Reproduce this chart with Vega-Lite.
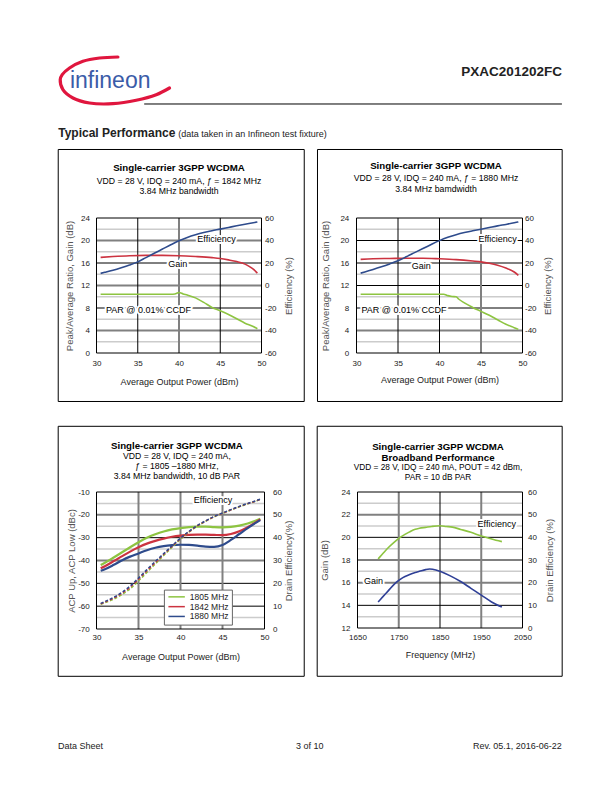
{
 "$schema": "https://vega.github.io/schema/vega-lite/v6.json",
 "background": "white",
 "padding": {"left": 53.5, "top": 50, "right": 0, "bottom": 0},
 "config": {
  "font": "Liberation Sans",
  "view": {"stroke": null},
  "axis": {"labelFont": "Liberation Sans", "labelFontSize": 8, "labelColor": "#222222", "titleFont": "Liberation Sans", "titleFontSize": 9, "titleFontWeight": "normal", "titleColor": "#222222", "domain": false, "ticks": false, "tickSize": 0, "grid": false, "labelOverlap": false, "labelFlush": false, "labelBound": false},
  "axisY": {"titleColor": "#555555", "titleFontSize": 9.5, "labelOverlap": false},
  "title": {"font": "Liberation Sans", "fontSize": 9.7, "fontWeight": "bold", "color": "#000000", "subtitleFont": "Liberation Sans", "subtitleFontSize": 8.7, "subtitleColor": "#000000", "anchor": "middle", "frame": "group"},
  "text": {"font": "Liberation Sans"},
  "legend": {"labelFont": "Liberation Sans"}
 },
 "datasets": {
  "swoosh": [
   {"i":1,"hx":0.0460,"hy":0.0421},{"i":2,"hx":0.0065,"hy":0.0526},{"i":3,"hx":-0.0292,"hy":0.0874},{"i":4,"hx":-0.0579,"hy":0.1579},{"i":5,"hx":-0.0736,"hy":0.2284},{"i":6,"hx":-0.0779,"hy":0.2811},{"i":7,"hx":-0.0721,"hy":0.3863},{"i":8,"hx":-0.0506,"hy":0.4737},{"i":9,"hx":-0.0150,"hy":0.5263},{"i":10,"hx":0.0353,"hy":0.5337},{"i":11,"hx":0.0853,"hy":0.4979},{"i":12,"hx":0.1282,"hy":0.4389},{"i":13,"hx":0.1568,"hy":0.3684}
  ],
  "c1": [
   {"s":"Efficiency","P":30.5,"v":10.8},{"s":"Efficiency","P":31,"v":11.7},{"s":"Efficiency","P":32,"v":13.6},{"s":"Efficiency","P":33,"v":15.8},{"s":"Efficiency","P":34,"v":18.2},{"s":"Efficiency","P":35,"v":21.0},{"s":"Efficiency","P":36,"v":24.8},{"s":"Efficiency","P":37,"v":28.6},{"s":"Efficiency","P":38,"v":32.4},{"s":"Efficiency","P":39,"v":36.2},{"s":"Efficiency","P":40,"v":39.8},{"s":"Efficiency","P":41,"v":42.7},{"s":"Efficiency","P":42,"v":45.1},{"s":"Efficiency","P":43,"v":47.1},{"s":"Efficiency","P":44,"v":48.7},{"s":"Efficiency","P":45,"v":50.1},{"s":"Efficiency","P":46,"v":51.6},{"s":"Efficiency","P":47,"v":53.1},{"s":"Efficiency","P":48,"v":54.5},{"s":"Efficiency","P":49,"v":55.8},{"s":"Efficiency","P":49.5,"v":56.5},
   {"s":"Gain","P":30.5,"v":17.0},{"s":"Gain","P":32,"v":17.15},{"s":"Gain","P":34,"v":17.3},{"s":"Gain","P":36,"v":17.35},{"s":"Gain","P":38,"v":17.35},{"s":"Gain","P":40,"v":17.3},{"s":"Gain","P":42,"v":17.15},{"s":"Gain","P":44,"v":16.95},{"s":"Gain","P":45,"v":16.8},{"s":"Gain","P":46,"v":16.55},{"s":"Gain","P":47,"v":16.25},{"s":"Gain","P":48,"v":15.8},{"s":"Gain","P":48.5,"v":15.4},{"s":"Gain","P":49,"v":14.9},{"s":"Gain","P":49.5,"v":14.2},
   {"s":"PAR","P":30.5,"v":10.45},{"s":"PAR","P":33,"v":10.45},{"s":"PAR","P":36,"v":10.45},{"s":"PAR","P":39,"v":10.45},{"s":"PAR","P":39.5,"v":10.5},{"s":"PAR","P":40,"v":10.75},{"s":"PAR","P":40.5,"v":10.5},{"s":"PAR","P":41,"v":10.3},{"s":"PAR","P":42,"v":9.8},{"s":"PAR","P":43,"v":9.0},{"s":"PAR","P":44,"v":8.1},{"s":"PAR","P":45,"v":7.5},{"s":"PAR","P":46,"v":6.85},{"s":"PAR","P":47,"v":6.1},{"s":"PAR","P":48,"v":5.3},{"s":"PAR","P":49,"v":4.7},{"s":"PAR","P":49.5,"v":4.3}
  ],
  "c1lab": [
   {"t":"Efficiency","P":44.55,"v":20.3},{"t":"Gain","P":39.86,"v":15.85},{"t":"PAR  @ 0.01% CCDF","P":36.3,"v":7.6}
  ],
  "c2": [
   {"s":"Efficiency","P":30.5,"v":11.0},{"s":"Efficiency","P":31,"v":12.0},{"s":"Efficiency","P":32,"v":14.2},{"s":"Efficiency","P":33,"v":16.6},{"s":"Efficiency","P":34,"v":19.2},{"s":"Efficiency","P":35,"v":22.0},{"s":"Efficiency","P":36,"v":25.5},{"s":"Efficiency","P":37,"v":29.2},{"s":"Efficiency","P":38,"v":32.9},{"s":"Efficiency","P":39,"v":36.5},{"s":"Efficiency","P":40,"v":39.9},{"s":"Efficiency","P":41,"v":42.8},{"s":"Efficiency","P":42,"v":45.2},{"s":"Efficiency","P":43,"v":47.1},{"s":"Efficiency","P":44,"v":48.6},{"s":"Efficiency","P":45,"v":50.0},{"s":"Efficiency","P":46,"v":51.5},{"s":"Efficiency","P":47,"v":53.0},{"s":"Efficiency","P":48,"v":54.3},{"s":"Efficiency","P":49,"v":55.7},{"s":"Efficiency","P":49.5,"v":56.5},
   {"s":"Gain","P":30.5,"v":16.65},{"s":"Gain","P":32,"v":16.75},{"s":"Gain","P":34,"v":16.8},{"s":"Gain","P":36,"v":16.85},{"s":"Gain","P":38,"v":16.85},{"s":"Gain","P":40,"v":16.75},{"s":"Gain","P":42,"v":16.6},{"s":"Gain","P":44,"v":16.35},{"s":"Gain","P":45,"v":16.2},{"s":"Gain","P":46,"v":15.95},{"s":"Gain","P":47,"v":15.6},{"s":"Gain","P":48,"v":15.1},{"s":"Gain","P":49,"v":14.4},{"s":"Gain","P":49.5,"v":13.8},
   {"s":"PAR","P":30.5,"v":10.45},{"s":"PAR","P":35,"v":10.45},{"s":"PAR","P":40,"v":10.45},{"s":"PAR","P":40.5,"v":10.45},{"s":"PAR","P":41,"v":10.2},{"s":"PAR","P":41.5,"v":10.05},{"s":"PAR","P":42,"v":10.0},{"s":"PAR","P":42.3,"v":9.6},{"s":"PAR","P":43,"v":8.9},{"s":"PAR","P":44,"v":8.1},{"s":"PAR","P":45,"v":7.4},{"s":"PAR","P":46,"v":6.7},{"s":"PAR","P":47,"v":5.9},{"s":"PAR","P":48,"v":5.1},{"s":"PAR","P":49,"v":4.5},{"s":"PAR","P":49.5,"v":4.2}
  ],
  "c2lab": [
   {"t":"Efficiency","P":47.0,"v":20.3},{"t":"Gain","P":37.8,"v":15.4},{"t":"PAR  @ 0.01% CCDF","P":35.72,"v":7.65}
  ],
  "c3acp": [
   {"f":"1805 MHz","P":30.5,"v":-42.0},{"f":"1805 MHz","P":31,"v":-41.0},{"f":"1805 MHz","P":32,"v":-38.8},{"f":"1805 MHz","P":33,"v":-36.5},{"f":"1805 MHz","P":34,"v":-34.2},{"f":"1805 MHz","P":35,"v":-32.0},{"f":"1805 MHz","P":36,"v":-30.0},{"f":"1805 MHz","P":37,"v":-28.5},{"f":"1805 MHz","P":38,"v":-27.3},{"f":"1805 MHz","P":39,"v":-26.4},{"f":"1805 MHz","P":40,"v":-25.8},{"f":"1805 MHz","P":41,"v":-25.4},{"f":"1805 MHz","P":42,"v":-25.2},{"f":"1805 MHz","P":43,"v":-25.2},{"f":"1805 MHz","P":44,"v":-25.4},{"f":"1805 MHz","P":45,"v":-25.5},{"f":"1805 MHz","P":46,"v":-25.3},{"f":"1805 MHz","P":47,"v":-24.7},{"f":"1805 MHz","P":48,"v":-23.8},{"f":"1805 MHz","P":49,"v":-22.5},{"f":"1805 MHz","P":49.5,"v":-21.7},
   {"f":"1842 MHz","P":30.5,"v":-43.4},{"f":"1842 MHz","P":31,"v":-42.5},{"f":"1842 MHz","P":32,"v":-40.4},{"f":"1842 MHz","P":33,"v":-38.2},{"f":"1842 MHz","P":34,"v":-36.1},{"f":"1842 MHz","P":35,"v":-34.2},{"f":"1842 MHz","P":36,"v":-32.6},{"f":"1842 MHz","P":37,"v":-31.4},{"f":"1842 MHz","P":38,"v":-30.4},{"f":"1842 MHz","P":39,"v":-29.6},{"f":"1842 MHz","P":40,"v":-29.1},{"f":"1842 MHz","P":41,"v":-28.8},{"f":"1842 MHz","P":42,"v":-28.7},{"f":"1842 MHz","P":43,"v":-28.7},{"f":"1842 MHz","P":44,"v":-28.8},{"f":"1842 MHz","P":45,"v":-28.9},{"f":"1842 MHz","P":46,"v":-28.4},{"f":"1842 MHz","P":47,"v":-27.2},{"f":"1842 MHz","P":48,"v":-25.4},{"f":"1842 MHz","P":49,"v":-23.2},{"f":"1842 MHz","P":49.5,"v":-22.0},
   {"f":"1880 MHz","P":30.5,"v":-44.5},{"f":"1880 MHz","P":31,"v":-43.8},{"f":"1880 MHz","P":32,"v":-42.0},{"f":"1880 MHz","P":33,"v":-40.0},{"f":"1880 MHz","P":34,"v":-38.3},{"f":"1880 MHz","P":35,"v":-36.9},{"f":"1880 MHz","P":36,"v":-35.5},{"f":"1880 MHz","P":37,"v":-34.4},{"f":"1880 MHz","P":38,"v":-33.7},{"f":"1880 MHz","P":39,"v":-33.3},{"f":"1880 MHz","P":40,"v":-33.1},{"f":"1880 MHz","P":41,"v":-33.2},{"f":"1880 MHz","P":42,"v":-33.5},{"f":"1880 MHz","P":43,"v":-33.9},{"f":"1880 MHz","P":44,"v":-34.0},{"f":"1880 MHz","P":45,"v":-33.2},{"f":"1880 MHz","P":46,"v":-31.0},{"f":"1880 MHz","P":47,"v":-28.4},{"f":"1880 MHz","P":48,"v":-25.8},{"f":"1880 MHz","P":49,"v":-23.4},{"f":"1880 MHz","P":49.5,"v":-22.3}
  ],
  "c3eff": [
   {"f":"1805 MHz","P":30.5,"v":10.8},{"f":"1805 MHz","P":31,"v":11.5},{"f":"1805 MHz","P":32,"v":13.0},{"f":"1805 MHz","P":33,"v":15.0},{"f":"1805 MHz","P":34,"v":17.6},{"f":"1805 MHz","P":35,"v":21.0},{"f":"1805 MHz","P":36,"v":24.8},{"f":"1805 MHz","P":37,"v":28.5},{"f":"1805 MHz","P":38,"v":32.2},{"f":"1805 MHz","P":39,"v":35.8},{"f":"1805 MHz","P":40,"v":39.3},{"f":"1805 MHz","P":41,"v":42.4},{"f":"1805 MHz","P":42,"v":45.0},{"f":"1805 MHz","P":43,"v":47.2},{"f":"1805 MHz","P":44,"v":49.1},{"f":"1805 MHz","P":45,"v":50.6},{"f":"1805 MHz","P":46,"v":52.1},{"f":"1805 MHz","P":47,"v":53.5},{"f":"1805 MHz","P":48,"v":54.8},{"f":"1805 MHz","P":49,"v":56.0},{"f":"1805 MHz","P":49.5,"v":56.7},
   {"f":"1842 MHz","P":30.5,"v":11.0},{"f":"1842 MHz","P":31,"v":11.8},{"f":"1842 MHz","P":32,"v":13.5},{"f":"1842 MHz","P":33,"v":15.6},{"f":"1842 MHz","P":34,"v":18.3},{"f":"1842 MHz","P":35,"v":21.8},{"f":"1842 MHz","P":36,"v":25.5},{"f":"1842 MHz","P":37,"v":29.1},{"f":"1842 MHz","P":38,"v":32.7},{"f":"1842 MHz","P":39,"v":36.2},{"f":"1842 MHz","P":40,"v":39.6},{"f":"1842 MHz","P":41,"v":42.6},{"f":"1842 MHz","P":42,"v":45.2},{"f":"1842 MHz","P":43,"v":47.3},{"f":"1842 MHz","P":44,"v":49.2},{"f":"1842 MHz","P":45,"v":50.7},{"f":"1842 MHz","P":46,"v":52.2},{"f":"1842 MHz","P":47,"v":53.6},{"f":"1842 MHz","P":48,"v":54.9},{"f":"1842 MHz","P":49,"v":56.1},{"f":"1842 MHz","P":49.5,"v":56.8},
   {"f":"1880 MHz","P":30.5,"v":11.2},{"f":"1880 MHz","P":31,"v":12.0},{"f":"1880 MHz","P":32,"v":13.8},{"f":"1880 MHz","P":33,"v":16.0},{"f":"1880 MHz","P":34,"v":18.8},{"f":"1880 MHz","P":35,"v":22.3},{"f":"1880 MHz","P":36,"v":26.0},{"f":"1880 MHz","P":37,"v":29.6},{"f":"1880 MHz","P":38,"v":33.0},{"f":"1880 MHz","P":39,"v":36.5},{"f":"1880 MHz","P":40,"v":39.8},{"f":"1880 MHz","P":41,"v":42.8},{"f":"1880 MHz","P":42,"v":45.3},{"f":"1880 MHz","P":43,"v":47.4},{"f":"1880 MHz","P":44,"v":49.3},{"f":"1880 MHz","P":45,"v":50.8},{"f":"1880 MHz","P":46,"v":52.3},{"f":"1880 MHz","P":47,"v":53.7},{"f":"1880 MHz","P":48,"v":55.0},{"f":"1880 MHz","P":49,"v":56.2},{"f":"1880 MHz","P":49.5,"v":56.9}
  ],
  "c3lab": [{"t":"Efficiency","P":43.87,"v":-13.5}],
  "c4": [
   {"s":"Efficiency","F":1700,"v":30.5},{"s":"Efficiency","F":1710,"v":32.5},{"s":"Efficiency","F":1725,"v":35.5},{"s":"Efficiency","F":1740,"v":38.0},{"s":"Efficiency","F":1750,"v":39.5},{"s":"Efficiency","F":1765,"v":41.3},{"s":"Efficiency","F":1775,"v":42.3},{"s":"Efficiency","F":1790,"v":43.6},{"s":"Efficiency","F":1800,"v":44.0},{"s":"Efficiency","F":1815,"v":44.4},{"s":"Efficiency","F":1830,"v":44.8},{"s":"Efficiency","F":1850,"v":45.1},{"s":"Efficiency","F":1865,"v":44.8},{"s":"Efficiency","F":1880,"v":44.5},{"s":"Efficiency","F":1900,"v":43.5},{"s":"Efficiency","F":1925,"v":42.2},{"s":"Efficiency","F":1950,"v":40.6},{"s":"Efficiency","F":1975,"v":39.3},{"s":"Efficiency","F":2000,"v":38.1},
   {"s":"Gain","F":1700,"v":14.3},{"s":"Gain","F":1710,"v":14.7},{"s":"Gain","F":1725,"v":15.3},{"s":"Gain","F":1740,"v":15.9},{"s":"Gain","F":1750,"v":16.2},{"s":"Gain","F":1760,"v":16.45},{"s":"Gain","F":1775,"v":16.7},{"s":"Gain","F":1790,"v":16.9},{"s":"Gain","F":1800,"v":17.0},{"s":"Gain","F":1815,"v":17.15},{"s":"Gain","F":1825,"v":17.2},{"s":"Gain","F":1840,"v":17.12},{"s":"Gain","F":1850,"v":17.0},{"s":"Gain","F":1875,"v":16.6},{"s":"Gain","F":1900,"v":16.1},{"s":"Gain","F":1925,"v":15.5},{"s":"Gain","F":1950,"v":14.9},{"s":"Gain","F":1975,"v":14.3},{"s":"Gain","F":2000,"v":13.85}
  ],
  "c4lab": [{"t":"Efficiency","F":1987.5,"v":21.2},{"t":"Gain","F":1688.5,"v":16.17}]
 },
 "columns": 1,
 "align": "none",
 "spacing": 0,
 "resolve": {"scale": {"color": "independent"}, "legend": {"color": "independent"}},
 "concat": [
  {
   "width": 465.7, "height": 95,
   "encoding": {
    "x": {"field": "hx", "type": "quantitative", "scale": {"domain": [0, 1]}, "axis": null},
    "y": {"field": "hy", "type": "quantitative", "scale": {"domain": [0, 1], "reverse": true}, "axis": null}
   },
   "layer": [
    {"data": {"name": "swoosh"}, "mark": {"type": "line", "color": "#e0163e", "strokeWidth": 3.2, "interpolate": "catmull-rom", "strokeCap": "round"}, "encoding": {"order": {"field": "i", "type": "quantitative"}}},
    {"data": {"values": [{"hx": 0.1024, "hx2": 0.9994, "hy": 0.5368}]}, "mark": {"type": "rule", "color": "#000000", "strokeWidth": 1}, "encoding": {"x2": {"field": "hx2"}}},
    {"data": {"values": [{"hx": -0.0571, "hy": 0.3716, "t": "infineon"}]}, "mark": {"type": "text", "align": "left", "baseline": "alphabetic", "fontSize": 23, "color": "#3b5ca8"}, "encoding": {"text": {"field": "t"}}},
    {"data": {"values": [{"hx": 0.9994, "hy": 0.2453, "t": "PXAC201202FC"}]}, "mark": {"type": "text", "align": "right", "baseline": "alphabetic", "fontSize": 13.5, "fontWeight": "bold", "color": "#222222"}, "encoding": {"text": {"field": "t"}}},
    {"data": {"values": [{"hx": -0.0822, "hy": 0.8874, "t": "Typical Performance"}]}, "mark": {"type": "text", "align": "left", "baseline": "alphabetic", "fontSize": 12, "fontWeight": "bold", "color": "#222222"}, "encoding": {"text": {"field": "t"}}},
    {"data": {"values": [{"hx": 0.1755, "hy": 0.8874, "t": "(data taken in an Infineon test fixture)"}]}, "mark": {"type": "text", "align": "left", "baseline": "alphabetic", "fontSize": 9, "color": "#222222"}, "encoding": {"text": {"field": "t"}}}
   ]
  },
  {
   "columns": 1,
   "align": "none",
   "spacing": 23,
   "resolve": {"scale": {"color": "independent"}, "legend": {"color": "independent"}},
   "concat": [
    {
     "columns": 2,
     "align": "none",
     "spacing": 11,
     "resolve": {"scale": {"color": "independent"}, "legend": {"color": "independent"}},
     "concat": [
      {
       "width": 165, "height": 135,
       "title": {"text": "Single-carrier 3GPP WCDMA", "subtitle": ["VDD = 28 V, IDQ = 240 mA, ƒ = 1842 MHz", "3.84 MHz bandwidth"], "offset": -47, "subtitlePadding": 3.4, "subtitleLineHeight": 10.7},
       "layer": [
        {
         "layer": [
          {"data": {"values": [{"v":2},{"v":6},{"v":10},{"v":14},{"v":18},{"v":22}]}, "mark": {"type": "rule", "color": "#cccccc", "strokeWidth": 1.5}, "encoding": {"y": {"field": "v", "type": "quantitative", "title": "Peak/Average Ratio, Gain (dB)", "scale": {"domain": [0, 24]}}}},
          {"data": {"values": [{"v":8},{"v":16}]}, "mark": {"type": "rule", "color": "#000000", "strokeWidth": 1}, "encoding": {"y": {"field": "v", "type": "quantitative", "title": "Peak/Average Ratio, Gain (dB)", "scale": {"domain": [0, 24]}}}},
          {"data": {"values": [{"v":4},{"v":12},{"v":20}]}, "mark": {"type": "rule", "color": "#808080", "strokeWidth": 2}, "encoding": {"y": {"field": "v", "type": "quantitative", "title": "Peak/Average Ratio, Gain (dB)", "scale": {"domain": [0, 24]}}}},
          {"data": {"values": [{"P":35},{"P":45}]}, "mark": {"type": "rule", "color": "#000000", "strokeWidth": 1}, "encoding": {"x": {"field": "P", "type": "quantitative", "title": "Average Output Power (dBm)", "scale": {"domain": [30, 50]}}}},
          {"data": {"values": [{"P":40}]}, "mark": {"type": "rule", "color": "#808080", "strokeWidth": 2}, "encoding": {"x": {"field": "P", "type": "quantitative", "title": "Average Output Power (dBm)", "scale": {"domain": [30, 50]}}}},
          {"data": {"values": [{"P": 30, "P2": 50, "v": 0, "v2": 24}, {"P": 25.36, "P2": 55.18, "v": -8.62, "v2": 36.18}]}, "mark": {"type": "rect", "fill": "#ffffff", "fillOpacity": 0, "stroke": "#000000", "strokeWidth": 1},
           "encoding": {"x": {"field": "P", "type": "quantitative", "title": "Average Output Power (dBm)", "scale": {"domain": [30, 50]}, "axis": {"values": [30, 35, 40, 45, 50], "tickCount": 20, "labelExpr": "'' + datum.value", "labelPadding": 6, "titlePadding": 10}}, "x2": {"field": "P2"}, "y": {"field": "v", "type": "quantitative", "title": "Peak/Average Ratio, Gain (dB)", "scale": {"domain": [0, 24]}, "axis": {"values": [0, 4, 8, 12, 16, 20, 24], "tickCount": 20, "labelExpr": "'' + datum.value", "labelOverlap": false, "labelPadding": 7, "titlePadding": 6}}, "y2": {"field": "v2"}}},
          {"data": {"name": "c1"}, "transform": [{"filter": "datum.s != 'Efficiency'"}], "mark": {"type": "line", "strokeWidth": 1.6, "interpolate": "monotone"}, "encoding": {"x": {"field": "P", "type": "quantitative", "title": "Average Output Power (dBm)", "scale": {"domain": [30, 50]}}, "y": {"field": "v", "type": "quantitative", "title": "Peak/Average Ratio, Gain (dB)", "scale": {"domain": [0, 24]}}, "color": {"field": "s", "type": "nominal", "scale": {"domain": ["Efficiency", "Gain", "PAR"], "range": ["#2e4b8c", "#cc3340", "#8dc441"]}, "legend": null}}},
          {"data": {"name": "c1lab"}, "mark": {"type": "text", "fontSize": 9, "fill": "#ffffff", "stroke": "#ffffff", "strokeWidth": 4, "strokeJoin": "round"}, "encoding": {"x": {"field": "P", "type": "quantitative", "title": "Average Output Power (dBm)", "scale": {"domain": [30, 50]}}, "y": {"field": "v", "type": "quantitative", "title": "Peak/Average Ratio, Gain (dB)", "scale": {"domain": [0, 24]}}, "text": {"field": "t"}}},
          {"data": {"name": "c1lab"}, "mark": {"type": "text", "fontSize": 9, "fill": "#000000"}, "encoding": {"x": {"field": "P", "type": "quantitative", "title": "Average Output Power (dBm)", "scale": {"domain": [30, 50]}}, "y": {"field": "v", "type": "quantitative", "title": "Peak/Average Ratio, Gain (dB)", "scale": {"domain": [0, 24]}}, "text": {"field": "t"}}}
         ]
        },
        {"data": {"name": "c1"}, "transform": [{"filter": "datum.s == 'Efficiency'"}], "mark": {"type": "line", "strokeWidth": 1.6, "interpolate": "monotone"}, "encoding": {"x": {"field": "P", "type": "quantitative", "title": "Average Output Power (dBm)", "scale": {"domain": [30, 50]}}, "y": {"field": "v", "type": "quantitative", "title": "Efficiency (%)", "scale": {"domain": [-60, 60]}, "axis": {"orient": "right", "values": [-60, -40, -20, 0, 20, 40, 60], "tickCount": 20, "labelExpr": "'' + datum.value", "labelOverlap": false, "labelPadding": 3, "titlePadding": 17.5, "titleAngle": 270}}, "color": {"field": "s", "type": "nominal", "scale": {"domain": ["Efficiency", "Gain", "PAR"], "range": ["#2e4b8c", "#cc3340", "#8dc441"]}, "legend": null}}}
       ],
       "resolve": {"scale": {"y": "independent"}}
      },
      {
       "width": 166, "height": 135,
       "title": {"text": "Single-carrier 3GPP WCDMA", "subtitle": ["VDD = 28 V, IDQ = 240 mA, ƒ = 1880 MHz", "3.84 MHz bamdwidth"], "offset": -44.5, "subtitlePadding": 3.1, "subtitleLineHeight": 11.2, "dx": -3.5},
       "layer": [
        {
         "layer": [
          {"data": {"values": [{"v":2},{"v":6},{"v":10},{"v":14},{"v":18},{"v":22}]}, "mark": {"type": "rule", "color": "#cccccc", "strokeWidth": 1.5}, "encoding": {"y": {"field": "v", "type": "quantitative", "title": "Peak/Average Ratio, Gain (dB)", "scale": {"domain": [0, 24]}}}},
          {"data": {"values": [{"v":8},{"v":12},{"v":20}]}, "mark": {"type": "rule", "color": "#000000", "strokeWidth": 1}, "encoding": {"y": {"field": "v", "type": "quantitative", "title": "Peak/Average Ratio, Gain (dB)", "scale": {"domain": [0, 24]}}}},
          {"data": {"values": [{"v":4},{"v":16}]}, "mark": {"type": "rule", "color": "#808080", "strokeWidth": 2}, "encoding": {"y": {"field": "v", "type": "quantitative", "title": "Peak/Average Ratio, Gain (dB)", "scale": {"domain": [0, 24]}}}},
          {"data": {"values": [{"P":35},{"P":40}]}, "mark": {"type": "rule", "color": "#000000", "strokeWidth": 1}, "encoding": {"x": {"field": "P", "type": "quantitative", "title": "Average Output Power (dBm)", "scale": {"domain": [30, 50]}}}},
          {"data": {"values": [{"P":45}]}, "mark": {"type": "rule", "color": "#808080", "strokeWidth": 2}, "encoding": {"x": {"field": "P", "type": "quantitative", "title": "Average Output Power (dBm)", "scale": {"domain": [30, 50]}}}},
          {"data": {"values": [{"P": 30, "P2": 50, "v": 0, "v2": 24}, {"P": 25.30, "P2": 54.78, "v": -8.62, "v2": 36.18}]}, "mark": {"type": "rect", "fill": "#ffffff", "fillOpacity": 0, "stroke": "#000000", "strokeWidth": 1},
           "encoding": {"x": {"field": "P", "type": "quantitative", "title": "Average Output Power (dBm)", "scale": {"domain": [30, 50]}, "axis": {"values": [30, 35, 40, 45, 50], "tickCount": 20, "labelExpr": "'' + datum.value", "labelPadding": 6.4, "titlePadding": 8}}, "x2": {"field": "P2"}, "y": {"field": "v", "type": "quantitative", "title": "Peak/Average Ratio, Gain (dB)", "scale": {"domain": [0, 24]}, "axis": {"values": [0, 4, 8, 12, 16, 20, 24], "tickCount": 20, "labelExpr": "'' + datum.value", "labelOverlap": false, "labelPadding": 7.7, "titlePadding": 9.7}}, "y2": {"field": "v2"}}},
          {"data": {"name": "c2"}, "transform": [{"filter": "datum.s != 'Efficiency'"}], "mark": {"type": "line", "strokeWidth": 1.6, "interpolate": "monotone"}, "encoding": {"x": {"field": "P", "type": "quantitative", "title": "Average Output Power (dBm)", "scale": {"domain": [30, 50]}}, "y": {"field": "v", "type": "quantitative", "title": "Peak/Average Ratio, Gain (dB)", "scale": {"domain": [0, 24]}}, "color": {"field": "s", "type": "nominal", "scale": {"domain": ["Efficiency", "Gain", "PAR"], "range": ["#2e4b8c", "#cc3340", "#8dc441"]}, "legend": null}}},
          {"data": {"name": "c2lab"}, "mark": {"type": "text", "fontSize": 9, "fill": "#ffffff", "stroke": "#ffffff", "strokeWidth": 4, "strokeJoin": "round"}, "encoding": {"x": {"field": "P", "type": "quantitative", "title": "Average Output Power (dBm)", "scale": {"domain": [30, 50]}}, "y": {"field": "v", "type": "quantitative", "title": "Peak/Average Ratio, Gain (dB)", "scale": {"domain": [0, 24]}}, "text": {"field": "t"}}},
          {"data": {"name": "c2lab"}, "mark": {"type": "text", "fontSize": 9, "fill": "#000000"}, "encoding": {"x": {"field": "P", "type": "quantitative", "title": "Average Output Power (dBm)", "scale": {"domain": [30, 50]}}, "y": {"field": "v", "type": "quantitative", "title": "Peak/Average Ratio, Gain (dB)", "scale": {"domain": [0, 24]}}, "text": {"field": "t"}}}
         ]
        },
        {"data": {"name": "c2"}, "transform": [{"filter": "datum.s == 'Efficiency'"}], "mark": {"type": "line", "strokeWidth": 1.6, "interpolate": "monotone"}, "encoding": {"x": {"field": "P", "type": "quantitative", "title": "Average Output Power (dBm)", "scale": {"domain": [30, 50]}}, "y": {"field": "v", "type": "quantitative", "title": "Efficiency (%)", "scale": {"domain": [-60, 60]}, "axis": {"orient": "right", "values": [-60, -40, -20, 0, 20, 40, 60], "tickCount": 20, "labelExpr": "'' + datum.value", "labelOverlap": false, "labelPadding": 2, "titlePadding": 16, "titleAngle": 270}}, "color": {"field": "s", "type": "nominal", "scale": {"domain": ["Efficiency", "Gain", "PAR"], "range": ["#2e4b8c", "#cc3340", "#8dc441"]}, "legend": null}}}
       ],
       "resolve": {"scale": {"y": "independent"}}
      }
     ]
    },
    {
     "columns": 2,
     "align": "none",
     "spacing": 11,
     "resolve": {"scale": {"color": "independent"}, "legend": {"color": "independent"}},
     "concat": [
      {
       "width": 168, "height": 137,
       "title": {"text": "Single-carrier 3GPP WCDMA", "subtitle": ["VDD = 28 V, IDQ = 240 mA,", "ƒ = 1805 –1880 MHz,", "3.84 MHz bandwidth, 10 dB PAR"], "offset": -55, "subtitlePadding": 0.8, "subtitleLineHeight": 10.2, "dx": -3.6},
       "layer": [
        {
         "layer": [
          {"data": {"values": [{"v":-65},{"v":-55},{"v":-45},{"v":-35},{"v":-25},{"v":-15}]}, "mark": {"type": "rule", "color": "#cccccc", "strokeWidth": 1.5}, "encoding": {"y": {"field": "v", "type": "quantitative", "title": "ACP Up, ACP Low (dBc)", "scale": {"domain": [-70, -10]}}}},
          {"data": {"values": [{"v":-60},{"v":-50},{"v":-30}]}, "mark": {"type": "rule", "color": "#000000", "strokeWidth": 1}, "encoding": {"y": {"field": "v", "type": "quantitative", "title": "ACP Up, ACP Low (dBc)", "scale": {"domain": [-70, -10]}}}},
          {"data": {"values": [{"v":-40},{"v":-20}]}, "mark": {"type": "rule", "color": "#808080", "strokeWidth": 2}, "encoding": {"y": {"field": "v", "type": "quantitative", "title": "ACP Up, ACP Low (dBc)", "scale": {"domain": [-70, -10]}}}},
          {"data": {"values": [{"P":35},{"P":40},{"P":45}]}, "mark": {"type": "rule", "color": "#808080", "strokeWidth": 2}, "encoding": {"x": {"field": "P", "type": "quantitative", "title": "Average Output Power (dBm)", "scale": {"domain": [30, 50]}}}},
          {"data": {"values": [{"P": 30, "P2": 50, "v": -70, "v2": -10}, {"P": 25.44, "P2": 54.73, "v": -90.72, "v2": 18.77}]}, "mark": {"type": "rect", "fill": "#ffffff", "fillOpacity": 0, "stroke": "#000000", "strokeWidth": 1},
           "encoding": {"x": {"field": "P", "type": "quantitative", "title": "Average Output Power (dBm)", "scale": {"domain": [30, 50]}, "axis": {"values": [30, 35, 40, 45, 50], "tickCount": 20, "labelExpr": "'' + datum.value", "labelPadding": 4.7, "titlePadding": 10.6}}, "x2": {"field": "P2"}, "y": {"field": "v", "type": "quantitative", "title": "ACP Up, ACP Low (dBc)", "scale": {"domain": [-70, -10]}, "axis": {"values": [-70, -60, -50, -40, -30, -20, -10], "tickCount": 20, "labelExpr": "'' + datum.value", "labelOverlap": false, "labelPadding": 7.3, "titlePadding": 1}}, "y2": {"field": "v2"}}},
          {"data": {"name": "c3acp"}, "mark": {"type": "line", "strokeWidth": 2.2, "interpolate": "monotone"}, "encoding": {"x": {"field": "P", "type": "quantitative", "title": "Average Output Power (dBm)", "scale": {"domain": [30, 50]}}, "y": {"field": "v", "type": "quantitative", "title": "ACP Up, ACP Low (dBc)", "scale": {"domain": [-70, -10]}}, "color": {"field": "f", "type": "nominal", "scale": {"domain": ["1805 MHz", "1842 MHz", "1880 MHz"], "range": ["#8dc441", "#cc3340", "#2e4b8c"]}, "legend": {"orient": "none", "legendX": 67.4, "legendY": 97.6, "title": null, "symbolType": "M-1,0H5", "symbolSize": 30, "symbolStrokeWidth": 1.5, "symbolDash": [], "labelFontSize": 8.5, "labelColor": "#222222", "labelOffset": 14.4, "fillColor": "#ffffff", "strokeColor": "#666666", "padding": 3, "rowPadding": 0.8}}}},
          {"data": {"name": "c3lab"}, "mark": {"type": "text", "fontSize": 9, "fill": "#ffffff", "stroke": "#ffffff", "strokeWidth": 4, "strokeJoin": "round"}, "encoding": {"x": {"field": "P", "type": "quantitative", "title": "Average Output Power (dBm)", "scale": {"domain": [30, 50]}}, "y": {"field": "v", "type": "quantitative", "title": "ACP Up, ACP Low (dBc)", "scale": {"domain": [-70, -10]}}, "text": {"field": "t"}}},
          {"data": {"name": "c3lab"}, "mark": {"type": "text", "fontSize": 9, "fill": "#000000"}, "encoding": {"x": {"field": "P", "type": "quantitative", "title": "Average Output Power (dBm)", "scale": {"domain": [30, 50]}}, "y": {"field": "v", "type": "quantitative", "title": "ACP Up, ACP Low (dBc)", "scale": {"domain": [-70, -10]}}, "text": {"field": "t"}}}
         ]
        },
        {"data": {"name": "c3eff"}, "mark": {"type": "line", "strokeWidth": 1.5, "strokeDash": [3, 2], "interpolate": "monotone"}, "encoding": {"x": {"field": "P", "type": "quantitative", "title": "Average Output Power (dBm)", "scale": {"domain": [30, 50]}}, "y": {"field": "v", "type": "quantitative", "title": "Drain Efficiency(%)", "scale": {"domain": [0, 60]}, "axis": {"orient": "right", "values": [0, 10, 20, 30, 40, 50, 60], "tickCount": 20, "labelExpr": "'' + datum.value", "labelOverlap": false, "labelPadding": 8, "titlePadding": 12, "titleAngle": 270}}, "color": {"field": "f", "type": "nominal", "scale": {"domain": ["1805 MHz", "1842 MHz", "1880 MHz"], "range": ["#8dc441", "#cc3340", "#2e4b8c"]}, "legend": {"orient": "none", "legendX": 67.4, "legendY": 97.6, "title": null, "symbolType": "M-1,0H5", "symbolSize": 30, "symbolStrokeWidth": 1.5, "symbolDash": [], "labelFontSize": 8.5, "labelColor": "#222222", "labelOffset": 14.4, "fillColor": "#ffffff", "strokeColor": "#666666", "padding": 3, "rowPadding": 0.8}}}}
       ],
       "resolve": {"scale": {"y": "independent"}}
      },
      {
       "width": 165, "height": 136,
       "title": {"text": ["Single-carrier 3GPP WCDMA", "Broadband Performance"], "lineHeight": 10.7, "subtitle": ["VDD = 28 V, IDQ = 240 mA, POUT = 42 dBm,", "PAR = 10 dB PAR"], "subtitleFontSize": 8.3, "subtitleLineHeight": 10.3, "subtitlePadding": 0.4, "offset": -55.5, "dx": -2},
       "layer": [
        {
         "layer": [
          {"data": {"values": [{"v":13},{"v":15},{"v":17},{"v":19},{"v":21},{"v":23}]}, "mark": {"type": "rule", "color": "#cccccc", "strokeWidth": 1.5}, "encoding": {"y": {"field": "v", "type": "quantitative", "title": "Gain (dB)", "scale": {"domain": [12, 24]}}}},
          {"data": {"values": [{"v":14},{"v":18},{"v":20}]}, "mark": {"type": "rule", "color": "#000000", "strokeWidth": 1}, "encoding": {"y": {"field": "v", "type": "quantitative", "title": "Gain (dB)", "scale": {"domain": [12, 24]}}}},
          {"data": {"values": [{"v":16},{"v":22}]}, "mark": {"type": "rule", "color": "#808080", "strokeWidth": 2}, "encoding": {"y": {"field": "v", "type": "quantitative", "title": "Gain (dB)", "scale": {"domain": [12, 24]}}}},
          {"data": {"values": [{"F":1850}]}, "mark": {"type": "rule", "color": "#000000", "strokeWidth": 1}, "encoding": {"x": {"field": "F", "type": "quantitative", "title": "Frequency (MHz)", "scale": {"domain": [1650, 2050]}}}},
          {"data": {"values": [{"F":1750},{"F":1950}]}, "mark": {"type": "rule", "color": "#808080", "strokeWidth": 2}, "encoding": {"x": {"field": "F", "type": "quantitative", "title": "Frequency (MHz)", "scale": {"domain": [1650, 2050]}}}},
          {"data": {"values": [{"F": 1650, "F2": 2050, "v": 12, "v2": 24}, {"F": 1552.3, "F2": 2146.2, "v": 7.74, "v2": 29.80}]}, "mark": {"type": "rect", "fill": "#ffffff", "fillOpacity": 0, "stroke": "#000000", "strokeWidth": 1},
           "encoding": {"x": {"field": "F", "type": "quantitative", "title": "Frequency (MHz)", "scale": {"domain": [1650, 2050]}, "axis": {"values": [1650, 1750, 1850, 1950, 2050], "tickCount": 20, "labelExpr": "'' + datum.value", "labelPadding": 5.4, "titlePadding": 8.8}}, "x2": {"field": "F2"}, "y": {"field": "v", "type": "quantitative", "title": "Gain (dB)", "scale": {"domain": [12, 24]}, "axis": {"values": [12, 14, 16, 18, 20, 22, 24], "tickCount": 20, "labelExpr": "'' + datum.value", "labelOverlap": false, "labelPadding": 7.6, "titlePadding": 11.4}}, "y2": {"field": "v2"}}},
          {"data": {"name": "c4"}, "transform": [{"filter": "datum.s == 'Gain'"}], "mark": {"type": "line", "strokeWidth": 1.6, "interpolate": "monotone", "color": "#2e3f96"}, "encoding": {"x": {"field": "F", "type": "quantitative", "title": "Frequency (MHz)", "scale": {"domain": [1650, 2050]}}, "y": {"field": "v", "type": "quantitative", "title": "Gain (dB)", "scale": {"domain": [12, 24]}}}},
          {"data": {"name": "c4lab"}, "mark": {"type": "text", "fontSize": 9, "fill": "#ffffff", "stroke": "#ffffff", "strokeWidth": 4, "strokeJoin": "round"}, "encoding": {"x": {"field": "F", "type": "quantitative", "title": "Frequency (MHz)", "scale": {"domain": [1650, 2050]}}, "y": {"field": "v", "type": "quantitative", "title": "Gain (dB)", "scale": {"domain": [12, 24]}}, "text": {"field": "t"}}},
          {"data": {"name": "c4lab"}, "mark": {"type": "text", "fontSize": 9, "fill": "#000000"}, "encoding": {"x": {"field": "F", "type": "quantitative", "title": "Frequency (MHz)", "scale": {"domain": [1650, 2050]}}, "y": {"field": "v", "type": "quantitative", "title": "Gain (dB)", "scale": {"domain": [12, 24]}}, "text": {"field": "t"}}}
         ]
        },
        {"data": {"name": "c4"}, "transform": [{"filter": "datum.s == 'Efficiency'"}], "mark": {"type": "line", "strokeWidth": 1.6, "interpolate": "monotone", "color": "#8dc441"}, "encoding": {"x": {"field": "F", "type": "quantitative", "title": "Frequency (MHz)", "scale": {"domain": [1650, 2050]}}, "y": {"field": "v", "type": "quantitative", "title": "Drain Efficiency (%)", "scale": {"domain": [0, 60]}, "axis": {"orient": "right", "values": [0, 10, 20, 30, 40, 50, 60], "tickCount": 20, "labelExpr": "'' + datum.value", "labelOverlap": false, "labelPadding": 5, "titlePadding": 18, "titleAngle": 270}}}}
       ],
       "resolve": {"scale": {"y": "independent"}}
      }
     ]
    }
   ]
  },
  {
   "width": 465.7, "height": 84,
   "encoding": {
    "x": {"field": "hx", "type": "quantitative", "scale": {"domain": [0, 1]}, "axis": null},
    "y": {"field": "hy", "type": "quantitative", "scale": {"domain": [0, 1], "reverse": true}, "axis": null},
    "text": {"field": "t"}
   },
   "layer": [
    {"data": {"values": [{"hx": -0.0826, "hy": 0.857, "t": "Data Sheet"}]}, "mark": {"type": "text", "align": "left", "baseline": "alphabetic", "fontSize": 9, "color": "#222222"}},
    {"data": {"values": [{"hx": 0.4578, "hy": 0.857, "t": "3 of 10"}]}, "mark": {"type": "text", "align": "center", "baseline": "alphabetic", "fontSize": 9, "color": "#222222"}},
    {"data": {"values": [{"hx": 0.9992, "hy": 0.857, "t": "Rev. 05.1, 2016-06-22"}]}, "mark": {"type": "text", "align": "right", "baseline": "alphabetic", "fontSize": 9, "color": "#222222"}}
   ]
  }
 ]
}
